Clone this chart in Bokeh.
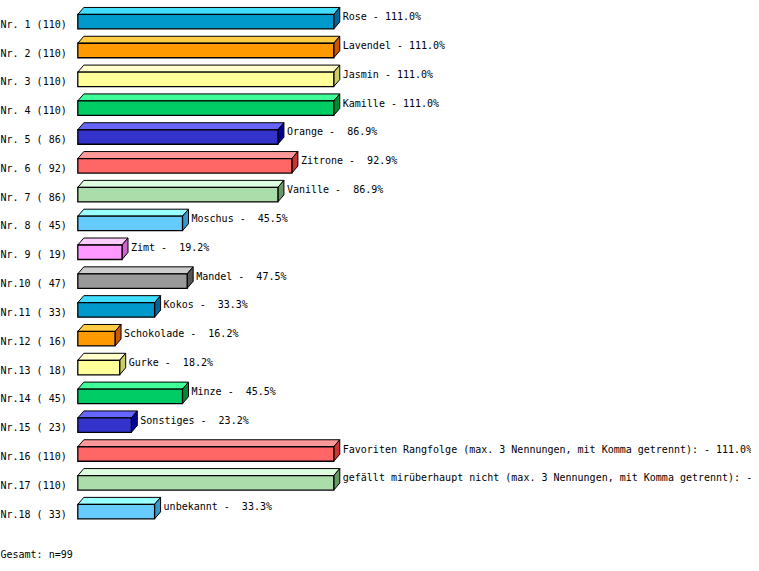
from bokeh.plotting import figure
from bokeh.models import Range1d, ColumnDataSource
from bokeh.core.properties import value
from bokeh.embed import file_html
from bokeh.resources import INLINE

# ---- data ----
names = ["Rose", "Lavendel", "Jasmin", "Kamille", "Orange", "Zitrone", "Vanille",
         "Moschus", "Zimt", "Mandel", "Kokos", "Schokolade", "Gurke", "Minze",
         "Sonstiges",
         "Favoriten Rangfolge (max. 3 Nennungen, mit Komma getrennt):",
         "gefällt mirüberhaupt nicht (max. 3 Nennungen, mit Komma getrennt):",
         "unbekannt"]
counts = [110, 110, 110, 110, 86, 92, 86, 45, 19, 47, 33, 16, 18, 45, 23, 110, 110, 33]
percents = [111.0, 111.0, 111.0, 111.0, 86.9, 92.9, 86.9, 45.5, 19.2, 47.5, 33.3,
            16.2, 18.2, 45.5, 23.2, 111.0, 111.0, 33.3]
total_label = "Gesamt: n=99"

# ---- styles ----
front_colors = ["#0099cc", "#ff9900", "#ffff99", "#00cc66", "#3333cc",
                "#ff6666", "#aaddaa", "#66ccff", "#ff99ff", "#999999"]
top_colors = ["#40ddff", "#ffcc44", "#ffffcc", "#40ff99", "#6666ff",
              "#ff9999", "#ddffdd", "#99ffff", "#ffccff", "#cccccc"]
side_colors = ["#006699", "#cc5500", "#cccc66", "#008833", "#000099",
               "#cc3333", "#669966", "#3399cc", "#cc66cc", "#555555"]

W, H = 751, 563
PX_PER_UNIT = 2.327
LEFT_PX = 77.3
ROW_PX = 28.82
FIRST_CENTER_PX = 21.2
X0 = -LEFT_PX / PX_PER_UNIT
X1 = X0 + W / PX_PER_UNIT
Y_TOP = -FIRST_CENTER_PX / ROW_PX
Y_BOT = Y_TOP + H / ROW_PX

BAR_H = 14.5 / ROW_PX
DX = 6.0 / PX_PER_UNIT
DY = 7.0 / ROW_PX

NBSP = "\u00a0"

rows = list(range(len(counts)))
tops = [r - BAR_H / 2 for r in rows]
bots = [r + BAR_H / 2 for r in rows]

front = ColumnDataSource(dict(
    left=[0] * len(counts), right=counts, top=tops, bottom=bots,
    color=[front_colors[i % 10] for i in rows]))

top_xs, top_ys, side_xs, side_ys = [], [], [], []
for c, t, b in zip(counts, tops, bots):
    top_xs.append([0, c, c + DX, DX])
    top_ys.append([t, t, t - DY, t - DY])
    side_xs.append([c, c + DX, c + DX, c])
    side_ys.append([t, t - DY, b - DY, b])

top_src = ColumnDataSource(dict(xs=top_xs, ys=top_ys, color=[top_colors[i % 10] for i in rows]))
side_src = ColumnDataSource(dict(xs=side_xs, ys=side_ys, color=[side_colors[i % 10] for i in rows]))

left_labels = [("Nr.%2d (%3d)" % (i + 1, c)).replace(" ", NBSP) for i, c in enumerate(counts)]
right_labels = [(n + " - " + ("%5.1f%%" % pc).replace(" ", NBSP)) for n, pc in zip(names, percents)]
lab_src = ColumnDataSource(dict(
    row=rows, right=counts, xl=[X0] * len(counts),
    left_label=left_labels, right_label=right_labels))

p = figure(width=W, height=H, x_range=Range1d(X0, X1), y_range=Range1d(Y_BOT, Y_TOP),
           output_backend="svg", toolbar_location=None, min_border=0,
           x_axis_type=None, y_axis_type=None)
p.grid.visible = False
p.outline_line_color = None
p.background_fill_color = "white"
p.border_fill_color = "white"

p.patches("xs", "ys", source=top_src, fill_color="color", line_color="black",
          line_width=1, line_join="miter")
p.patches("xs", "ys", source=side_src, fill_color="color", line_color="black",
          line_width=1, line_join="miter")
p.quad(left="left", right="right", top="top", bottom="bottom", source=front,
       fill_color="color", line_color="black", line_width=1.3, line_join="miter")

font = value("DejaVu Sans Mono")
p.text(x="xl", y="row", text="left_label", source=lab_src, text_font=font,
       text_font_size="10px", text_baseline="middle", text_align="left",
       y_offset=2.5, text_color="black")
p.text(x="right", y="row", text="right_label", source=lab_src, text_font=font,
       text_font_size="10px", text_baseline="middle", text_align="left",
       x_offset=9, y_offset=-5, text_color="black")
p.text(x=[X0], y=[len(counts) - 1 + 1.49], text=[total_label], text_font=font,
       text_font_size="10px", text_baseline="middle", text_align="left",
       text_color="black")

open("out.html", "w").write(file_html(p, INLINE))
